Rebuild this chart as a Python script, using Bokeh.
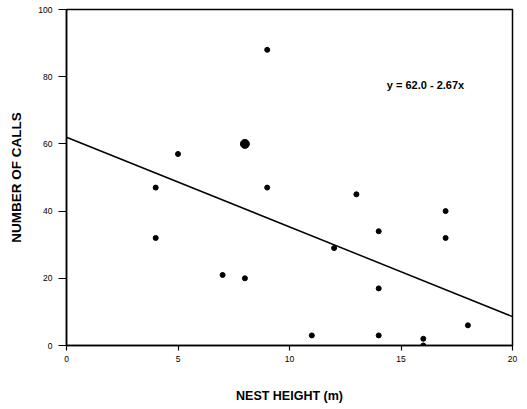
from bokeh.plotting import figure
from bokeh.models import Range1d, FixedTicker, Label
from bokeh.embed import file_html
from bokeh.resources import INLINE

# Data
nest_height = [4, 4, 5, 7, 8, 8, 9, 9, 11, 12, 13, 14, 14, 14, 16, 16, 17, 17, 18]
num_calls = [47, 32, 57, 21, 60, 20, 88, 47, 3, 29, 45, 34, 17, 3, 2, 0, 40, 32, 6]
n_obs = [1, 1, 1, 1, 2, 1, 1, 1, 1, 1, 1, 1, 1, 1, 1, 1, 1, 1, 1]
intercept = 62.0
slope = -2.67
x_ticks = [0, 5, 10, 15, 20]
y_ticks = [0, 20, 40, 60, 80, 100]
equation = "y = 62.0 - 2.67x"

FONT = "Liberation Sans"

p = figure(width=520, height=405, output_backend="svg", toolbar_location=None,
           x_range=Range1d(0, 20), y_range=Range1d(0, 100),
           min_border_left=66, min_border_right=8, min_border_top=9, min_border_bottom=58)
p.background_fill_color = "white"
p.border_fill_color = "white"
p.outline_line_color = "black"
p.outline_line_width = 1.5
p.xgrid.visible = False
p.ygrid.visible = False

# regression line over the x range
x0, x1 = p.x_range.start, p.x_range.end
p.line([x0, x1], [intercept + slope * x0, intercept + slope * x1], line_color="black", line_width=1.5)

sizes = [5 if k == 1 else 9 for k in n_obs]
p.scatter(nest_height, num_calls, size=sizes, fill_color="black", line_color="black")

p.add_layout(Label(x=16.1, y=77.5, text=equation, text_align="center", text_baseline="middle",
                   text_font=FONT, text_font_size="11px", text_font_style="bold", text_color="black"))

for ax in (p.xaxis[0], p.yaxis[0]):
    ax.axis_line_color = "black"
    ax.axis_line_width = 1.5
    ax.major_tick_line_color = "black"
    ax.major_tick_line_width = 1.2
    ax.major_tick_in = 0
    ax.minor_tick_line_color = None
    ax.major_label_text_font = FONT
    ax.major_label_text_font_size = "8.5px"
    ax.major_label_text_color = "black"
    ax.axis_label_text_font = FONT
    ax.axis_label_text_font_style = "bold"
    ax.axis_label_text_color = "black"

p.xaxis.ticker = FixedTicker(ticks=x_ticks)
p.yaxis.ticker = FixedTicker(ticks=y_ticks)
p.xaxis.major_tick_out = 5
p.yaxis.major_tick_out = 8
p.xaxis.major_label_standoff = 5
p.yaxis.major_label_standoff = 6
p.xaxis.axis_label = "NEST HEIGHT (m)"
p.yaxis.axis_label = "NUMBER OF CALLS"
p.xaxis.axis_label_text_font_size = "12.5px"
p.yaxis.axis_label_text_font_size = "13.5px"
p.xaxis.axis_label_standoff = 24
p.yaxis.axis_label_standoff = 11

open("out.html", "w").write(file_html(p, INLINE))
